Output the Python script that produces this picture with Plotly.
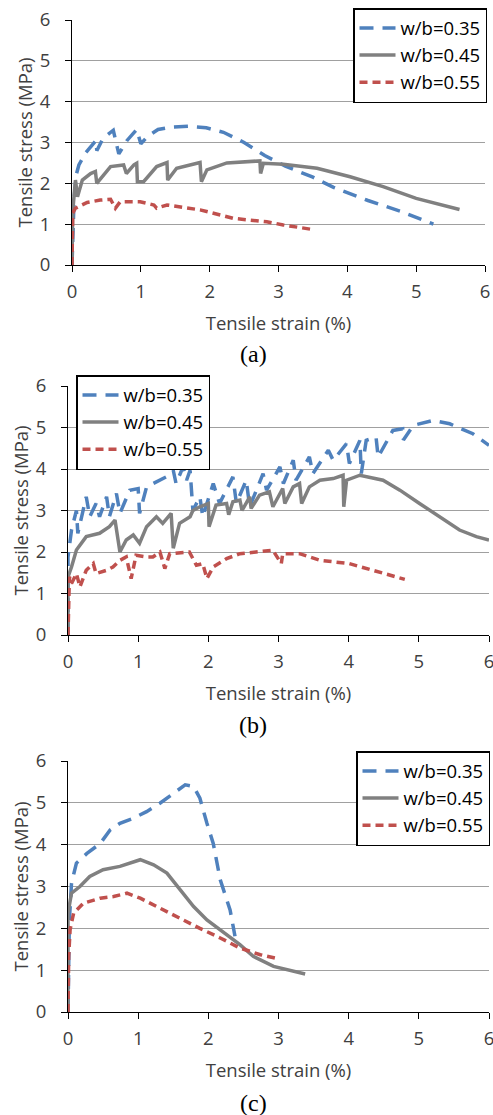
import plotly.graph_objects as go

# ---------------- data ----------------
# Panel (a)
a_x_035 = [0, 0.03, 0.06, 0.1, 0.2, 0.35, 0.36, 0.45, 0.6, 0.68, 0.8, 0.94, 1.0, 1.1, 1.25, 1.45, 1.7, 1.95, 2.2, 2.5, 2.8, 3.1, 3.5, 3.8, 4.3, 4.8, 5.25]
a_y_035 = [0, 1.6, 2.2, 2.45, 2.75, 3.05, 2.8, 3.1, 3.3, 2.72, 3.05, 3.32, 2.97, 3.15, 3.32, 3.38, 3.4, 3.36, 3.25, 3.0, 2.68, 2.42, 2.15, 1.9, 1.58, 1.3, 1.0]
a_x_045 = [0, 0.01, 0.05, 0.08, 0.15, 0.27, 0.34, 0.36, 0.56, 0.75, 0.79, 0.9, 0.94, 0.95, 1.04, 1.23, 1.38, 1.39, 1.52, 1.86, 1.88, 1.96, 2.25, 2.73, 2.74, 2.78, 3.07, 3.56, 4.04, 4.52, 5.0, 5.63]
a_y_045 = [0, 1.3, 2.08, 1.67, 2.08, 2.24, 2.29, 2.0, 2.41, 2.45, 2.24, 2.45, 2.49, 2.04, 2.04, 2.41, 2.51, 2.08, 2.37, 2.51, 2.04, 2.33, 2.5, 2.55, 2.24, 2.49, 2.47, 2.37, 2.16, 1.92, 1.63, 1.36]
a_x_055 = [0, 0.01, 0.05, 0.22, 0.41, 0.56, 0.63, 0.7, 0.99, 1.19, 1.23, 1.38, 1.86, 2.35, 2.83, 3.07, 3.53]
a_y_055 = [0, 1.27, 1.39, 1.53, 1.59, 1.61, 1.39, 1.55, 1.55, 1.47, 1.39, 1.47, 1.35, 1.14, 1.06, 0.98, 0.86]

# Panel (b)
b_x_035 = [0, 0.0, 0.05, 0.12, 0.14, 0.26, 0.31, 0.4, 0.45, 0.55, 0.59, 0.69, 0.74, 0.88, 1.0, 1.02, 1.12, 1.31, 1.4, 1.5, 1.54, 1.64, 1.69, 1.74, 1.78, 1.88, 1.92, 2.07, 2.16, 2.35, 2.4, 2.54, 2.59, 2.78, 2.83, 3.02, 3.07, 3.21, 3.25, 3.44, 3.49, 3.71, 3.78, 3.97, 4.01, 4.16, 4.18, 4.25, 4.39, 4.42, 4.63, 4.77, 4.78, 4.92, 5.2, 5.44, 5.77, 6.0]
b_y_035 = [0, 1.88, 2.53, 3.0, 2.45, 3.33, 2.85, 3.17, 2.85, 3.33, 2.85, 3.41, 2.93, 3.49, 3.53, 2.93, 3.57, 3.73, 3.81, 3.97, 3.65, 4.05, 3.73, 3.97, 3.0, 3.33, 2.85, 3.65, 3.17, 3.81, 3.17, 3.73, 3.09, 3.89, 3.49, 4.05, 3.65, 4.21, 3.73, 4.29, 3.89, 4.45, 4.21, 4.61, 4.13, 4.69, 3.89, 4.69, 4.77, 4.29, 4.93, 4.97, 4.7, 5.05, 5.17, 5.09, 4.85, 4.57]
b_x_045 = [0, 0.0, 0.05, 0.12, 0.26, 0.45, 0.59, 0.67, 0.74, 0.83, 0.93, 1.02, 1.12, 1.26, 1.35, 1.47, 1.5, 1.59, 1.74, 1.78, 1.88, 2.0, 2.01, 2.11, 2.26, 2.29, 2.35, 2.45, 2.48, 2.59, 2.61, 2.73, 2.87, 2.92, 3.06, 3.09, 3.21, 3.3, 3.33, 3.44, 3.59, 3.78, 3.92, 3.93, 3.97, 4.16, 4.49, 4.73, 5.01, 5.3, 5.58, 5.82, 6.0]
b_y_045 = [0, 1.4, 1.64, 2.05, 2.37, 2.45, 2.61, 2.77, 2.0, 2.29, 2.41, 2.21, 2.61, 2.85, 2.69, 2.93, 2.09, 2.69, 2.85, 3.0, 3.09, 3.17, 2.61, 3.13, 3.17, 2.9, 3.21, 3.25, 3.0, 3.33, 3.05, 3.37, 3.45, 3.09, 3.53, 3.17, 3.57, 3.65, 3.17, 3.57, 3.73, 3.77, 3.85, 3.09, 3.73, 3.85, 3.73, 3.49, 3.17, 2.85, 2.53, 2.37, 2.29]
b_x_055 = [0, 0.01, 0.02, 0.05, 0.12, 0.17, 0.26, 0.36, 0.4, 0.55, 0.64, 0.74, 0.83, 0.9, 0.97, 1.12, 1.21, 1.31, 1.38, 1.45, 1.64, 1.73, 1.83, 1.92, 1.98, 2.07, 2.26, 2.45, 2.68, 2.92, 3.04, 3.06, 3.3, 3.59, 4.01, 4.35, 4.8]
b_y_055 = [0, 1.16, 1.4, 1.24, 1.48, 1.16, 1.56, 1.72, 1.48, 1.56, 1.64, 1.8, 1.88, 1.36, 1.92, 1.88, 1.88, 2.0, 1.6, 1.96, 2.0, 2.0, 1.68, 1.72, 1.36, 1.64, 1.84, 1.96, 2.0, 2.04, 1.72, 1.96, 1.96, 1.8, 1.72, 1.56, 1.34]

# Panel (c)
c_x_035 = [0, 0.02, 0.05, 0.12, 0.27, 0.46, 0.6, 0.74, 0.93, 1.12, 1.31, 1.5, 1.67, 1.79, 1.88, 1.98, 2.07, 2.17, 2.31, 2.38]
c_y_035 = [0, 2.2, 3.08, 3.56, 3.79, 4.03, 4.35, 4.51, 4.63, 4.79, 4.99, 5.23, 5.43, 5.39, 5.11, 4.51, 4.03, 3.16, 2.44, 1.81]
c_x_045 = [0, 0.0, 0.05, 0.17, 0.31, 0.5, 0.74, 1.03, 1.22, 1.41, 1.6, 1.79, 1.98, 2.26, 2.45, 2.64, 2.93, 3.38]
c_y_045 = [0, 2.36, 2.84, 3.0, 3.24, 3.4, 3.48, 3.64, 3.52, 3.32, 2.92, 2.52, 2.2, 1.85, 1.61, 1.33, 1.09, 0.91]
c_x_055 = [0, 0.01, 0.03, 0.08, 0.22, 0.46, 0.65, 0.84, 1.03, 1.26, 1.55, 1.88, 2.17, 2.45, 2.74, 3.0]
c_y_055 = [0, 1.33, 1.97, 2.36, 2.6, 2.72, 2.76, 2.84, 2.72, 2.52, 2.28, 2.0, 1.77, 1.53, 1.37, 1.27]

series_names = ["w/b=0.35", "w/b=0.45", "w/b=0.55"]
x_ticks = [0, 1, 2, 3, 4, 5, 6]
y_ticks = [0, 1, 2, 3, 4, 5, 6]
captions = ["(a)", "(b)", "(c)"]

# ---------------- styling ----------------
W, H = 493, 1115
BLUE, GRAY, RED = "#4F81BD", "#808080", "#C0504D"
styles = [dict(color=BLUE, width=3.5, dash="14px,9px"),
          dict(color=GRAY, width=3.5, dash="solid"),
          dict(color=RED, width=3.5, dash="8px,5px")]
FONT = "Open Sans"
TXT = "#404040"
FS = 18.5

def px2x(p):
    return p / W

def py2y(p):
    return 1 - p / H

# pixel layout of each panel: (x0, x1, y_zero_px, y_six_px)
panels = [(72, 485, 265, 20), (68, 489, 635, 386), (68, 489, 1012, 761)]
# legend anchor: (x px, y px, xanchor)
legend_pos = [(487, 8, "right"), (76, 375, "left"), (490, 751, "right")]
caption_y = [354, 725, 1103]

data = [
    [(a_x_035, a_y_035), (a_x_045, a_y_045), (a_x_055, a_y_055)],
    [(b_x_035, b_y_035), (b_x_045, b_y_045), (b_x_055, b_y_055)],
    [(c_x_035, c_y_035), (c_x_045, c_y_045), (c_x_055, c_y_055)],
]

fig = go.Figure()
layout = dict(width=W, height=H, margin=dict(l=0, r=0, t=0, b=0, autoexpand=False),
              paper_bgcolor="white", plot_bgcolor="white",
              font=dict(family=FONT, color=TXT, size=FS), annotations=[])

for i, (x0, x1, yz, ys) in enumerate(panels):
    k = "" if i == 0 else str(i + 1)
    leg = "legend" if i == 0 else "legend" + str(i + 1)
    for j, (xs, ys_) in enumerate(data[i]):
        fig.add_trace(go.Scatter(
            x=xs, y=ys_, mode="lines", name=series_names[j],
            line=styles[j], xaxis="x" + k, yaxis="y" + k,
            legend=leg, legendgroup=f"g{i}{j}", showlegend=True))
    layout["xaxis" + k] = dict(
        domain=[px2x(x0), px2x(x1)], range=[0, 6], anchor="y" + k,
        tickvals=x_ticks, ticktext=[str(t) for t in x_ticks],
        showline=True, linecolor="#000", linewidth=1,
        ticks="outside", ticklen=6, tickcolor="#000", tickwidth=1,
        showgrid=False, zeroline=False, ticklabelstandoff=4, automargin=False,
        ticklabeloverflow="allow",
        tickfont=dict(size=FS, color=TXT, family=FONT),
        title=dict(text="Tensile strain (%)", standoff=14,
                   font=dict(size=FS, color=TXT, family=FONT)))
    layout["yaxis" + k] = dict(
        domain=[py2y(yz), py2y(ys)], range=[0, 6], anchor="x" + k,
        tickvals=y_ticks, ticktext=[str(t) for t in y_ticks],
        showline=True, linecolor="#000", linewidth=1,
        ticks="outside", ticklen=6, tickcolor="#000", tickwidth=1,
        showgrid=True, gridcolor="#A0A0A0", gridwidth=1.2,
        zeroline=False, ticklabelstandoff=11, automargin=False,
        tickfont=dict(size=FS, color=TXT, family=FONT),
        title=dict(text="Tensile stress (MPa)", standoff=2,
                   font=dict(size=FS, color=TXT, family=FONT)))
    lx, ly, xa = legend_pos[i]
    layout[leg] = dict(x=px2x(lx), y=py2y(ly), xanchor=xa, yanchor="top",
                       xref="paper", yref="paper",
                       bgcolor="white", bordercolor="#000", borderwidth=1.5,
                       font=dict(size=FS, color="#000", family=FONT),
                       tracegroupgap=11, itemwidth=36, traceorder="normal")
    layout["annotations"].append(dict(
        text=captions[i], x=px2x(253), y=py2y(caption_y[i]),
        xref="paper", yref="paper", showarrow=False,
        xanchor="center", yanchor="middle",
        font=dict(family="Liberation Serif", size=24, color="#000")))

fig.update_layout(**layout)
fig.write_html("out.html", config={"displayModeBar": False},
               post_script="document.body.style.margin='0';")
